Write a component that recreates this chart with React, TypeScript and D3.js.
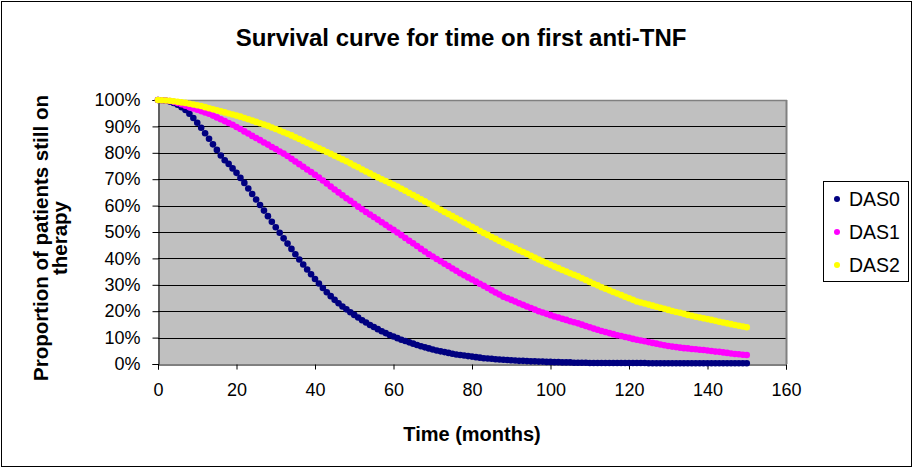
import React, { useEffect, useRef } from "react";
import * as d3 from "d3";

const months: number[] = d3.range(0, 151);

const das0: number[] = [
  1.000, 0.999, 0.997, 0.994, 0.989, 0.982, 0.973, 0.962, 0.948, 0.932,
  0.914, 0.895, 0.874, 0.853, 0.832, 0.811, 0.790, 0.772, 0.758, 0.741,
  0.724, 0.705, 0.686, 0.665, 0.644, 0.623, 0.602, 0.581, 0.560, 0.539,
  0.518, 0.497, 0.476, 0.456, 0.436, 0.416, 0.396, 0.377, 0.358, 0.340,
  0.322, 0.305, 0.288, 0.272, 0.257, 0.243, 0.230, 0.218, 0.207, 0.196,
  0.186, 0.176, 0.166, 0.157, 0.148, 0.140, 0.132, 0.124, 0.117, 0.110,
  0.104, 0.098, 0.092, 0.087, 0.082, 0.077, 0.072, 0.067, 0.063, 0.059,
  0.055, 0.051, 0.048, 0.045, 0.042, 0.039, 0.036, 0.034, 0.032, 0.030,
  0.028, 0.026, 0.024, 0.022, 0.021, 0.020, 0.018, 0.017, 0.016, 0.015,
  0.014, 0.013, 0.012, 0.012, 0.011, 0.010, 0.010, 0.009, 0.009, 0.008,
  0.008, 0.007, 0.007, 0.006, 0.006, 0.006, 0.005, 0.005, 0.005, 0.005,
  0.004, 0.004, 0.004, 0.004, 0.004, 0.004, 0.004, 0.004, 0.004, 0.004,
  0.004, 0.004, 0.004, 0.004, 0.004, 0.003, 0.003, 0.003, 0.003, 0.003,
  0.003, 0.003, 0.003, 0.003, 0.003, 0.003, 0.003, 0.003, 0.003, 0.003,
  0.003, 0.003, 0.003, 0.003, 0.003, 0.003, 0.003, 0.003, 0.003, 0.003,
  0.003,
];

const das1: number[] = [
  1.000, 0.999, 0.998, 0.996, 0.993, 0.989, 0.984, 0.978, 0.973, 0.968,
  0.963, 0.958, 0.953, 0.948, 0.941, 0.934, 0.927, 0.920, 0.913, 0.906,
  0.898, 0.890, 0.881, 0.873, 0.864, 0.856, 0.848, 0.839, 0.831, 0.822,
  0.814, 0.805, 0.797, 0.788, 0.777, 0.767, 0.757, 0.747, 0.737, 0.727,
  0.717, 0.706, 0.695, 0.684, 0.672, 0.661, 0.650, 0.639, 0.628, 0.618,
  0.607, 0.596, 0.586, 0.576, 0.566, 0.557, 0.547, 0.537, 0.527, 0.517,
  0.508, 0.498, 0.488, 0.477, 0.467, 0.457, 0.447, 0.436, 0.426, 0.416,
  0.407, 0.398, 0.389, 0.380, 0.371, 0.362, 0.353, 0.344, 0.336, 0.328,
  0.320, 0.312, 0.304, 0.296, 0.288, 0.279, 0.271, 0.263, 0.255, 0.249,
  0.243, 0.237, 0.230, 0.224, 0.218, 0.212, 0.206, 0.200, 0.195, 0.190,
  0.185, 0.180, 0.176, 0.171, 0.167, 0.162, 0.158, 0.154, 0.149, 0.144,
  0.139, 0.134, 0.130, 0.125, 0.121, 0.117, 0.113, 0.109, 0.106, 0.102,
  0.099, 0.095, 0.092, 0.089, 0.086, 0.083, 0.080, 0.077, 0.074, 0.071,
  0.068, 0.066, 0.064, 0.062, 0.060, 0.059, 0.057, 0.056, 0.054, 0.053,
  0.051, 0.049, 0.047, 0.046, 0.044, 0.042, 0.040, 0.038, 0.037, 0.035,
  0.034,
];

const das2: number[] = [
  1.000, 0.999, 0.998, 0.997, 0.995, 0.993, 0.991, 0.989, 0.986, 0.983,
  0.980, 0.977, 0.973, 0.969, 0.965, 0.961, 0.957, 0.953, 0.949, 0.945,
  0.941, 0.937, 0.932, 0.927, 0.922, 0.917, 0.912, 0.907, 0.902, 0.896,
  0.890, 0.884, 0.878, 0.872, 0.866, 0.859, 0.852, 0.845, 0.838, 0.831,
  0.824, 0.817, 0.810, 0.803, 0.796, 0.789, 0.782, 0.775, 0.768, 0.760,
  0.752, 0.745, 0.737, 0.729, 0.722, 0.714, 0.707, 0.700, 0.693, 0.686,
  0.679, 0.672, 0.664, 0.656, 0.648, 0.640, 0.632, 0.624, 0.616, 0.608,
  0.600, 0.592, 0.584, 0.576, 0.568, 0.560, 0.552, 0.544, 0.536, 0.528,
  0.520, 0.512, 0.504, 0.496, 0.489, 0.481, 0.474, 0.466, 0.459, 0.452,
  0.445, 0.438, 0.431, 0.424, 0.417, 0.410, 0.403, 0.396, 0.389, 0.382,
  0.376, 0.369, 0.363, 0.356, 0.350, 0.344, 0.338, 0.332, 0.325, 0.318,
  0.311, 0.304, 0.298, 0.291, 0.285, 0.279, 0.273, 0.267, 0.261, 0.255,
  0.249, 0.243, 0.237, 0.233, 0.229, 0.225, 0.221, 0.217, 0.213, 0.209,
  0.205, 0.201, 0.197, 0.194, 0.190, 0.186, 0.183, 0.179, 0.176, 0.173,
  0.170, 0.167, 0.164, 0.160, 0.157, 0.154, 0.151, 0.148, 0.145, 0.142,
  0.139,
];

const seriesNames: string[] = ["DAS0", "DAS1", "DAS2"];
const seriesColors: string[] = ["#000080", "#FF00FF", "#FFFF00"];
const xTicks: number[] = [0, 20, 40, 60, 80, 100, 120, 140, 160];
const yTicks: number[] = [0, 0.1, 0.2, 0.3, 0.4, 0.5, 0.6, 0.7, 0.8, 0.9, 1.0];

const titleText = "Survival curve for time on first anti-TNF";
const xTitle = "Time (months)";
const yTitleLines: string[] = ["Proportion of patients still on", "therapy"];

const W = 914;
const H = 469;
const FONT = "Arial, 'Liberation Sans', sans-serif";

export default function App() {
  const ref = useRef<SVGSVGElement>(null);

  useEffect(() => {
    const svg = d3.select(ref.current);
    svg.selectAll("*").remove();

    const left = 158, right = 786, top = 100, bottom = 364;
    const x = d3.scaleLinear().domain([0, 160]).range([left, right]);
    const y = d3.scaleLinear().domain([0, 1]).range([bottom, top]);

    svg.append("rect").attr("x", 0).attr("y", 0).attr("width", W).attr("height", H).attr("fill", "#fff");
    svg.append("rect").attr("x", 1.5).attr("y", 1.5).attr("width", W - 4).attr("height", H - 4)
      .attr("fill", "none").attr("stroke", "#000").attr("stroke-width", 1);

    svg.append("text").attr("x", 461).attr("y", 46).attr("text-anchor", "middle")
      .attr("font-family", FONT).attr("font-weight", "bold").attr("font-size", 24).text(titleText);

    // plot area
    svg.append("rect").attr("x", left).attr("y", top).attr("width", right - left).attr("height", bottom - top)
      .attr("fill", "#C0C0C0");

    // gridlines
    svg.append("g").selectAll("line").data(yTicks.filter(t => t > 0 && t < 1)).join("line")
      .attr("x1", left).attr("x2", right)
      .attr("y1", d => Math.round(y(d)) + 0.5).attr("y2", d => Math.round(y(d)) + 0.5)
      .attr("stroke", "#000").attr("stroke-width", 1);

    // top & right border
    svg.append("line").attr("x1", left).attr("x2", right + 1).attr("y1", top + 0.5).attr("y2", top + 0.5)
      .attr("stroke", "#808080").attr("stroke-width", 1.5);
    svg.append("line").attr("x1", right + 0.5).attr("x2", right + 0.5).attr("y1", top).attr("y2", bottom)
      .attr("stroke", "#808080").attr("stroke-width", 2);

    // axes
    const yAxis = d3.axisLeft(y).tickValues(yTicks).tickFormat(d3.format(".0%")).tickSize(6).tickPadding(12);
    const gy = svg.append("g").attr("transform", `translate(${left + 0.5},0)`).call(yAxis);
    gy.selectAll("text").attr("font-family", FONT).attr("font-size", 18).attr("fill", "#000");
    gy.selectAll("line").attr("stroke", "#000");
    gy.select(".domain").attr("stroke", "#000");

    const xAxis = d3.axisBottom(x).tickValues(xTicks).tickFormat(d3.format("d")).tickSize(5).tickPadding(14);
    const gx = svg.append("g").attr("transform", `translate(0,${bottom + 0.5})`).call(xAxis);
    gx.selectAll("text").attr("font-family", FONT).attr("font-size", 18).attr("fill", "#000");
    gx.selectAll("line").attr("stroke", "#000");
    gx.select(".domain").attr("stroke", "#000");

    // series
    const all = [das0, das1, das2];
    all.forEach((vals, i) => {
      svg.append("g").selectAll("circle").data(vals).join("circle")
        .attr("cx", (_, j) => x(months[j]))
        .attr("cy", d => y(d))
        .attr("r", 3.3)
        .attr("fill", seriesColors[i]);
    });

    // axis titles
    svg.append("text").attr("x", 472).attr("y", 441).attr("text-anchor", "middle")
      .attr("font-family", FONT).attr("font-weight", "bold").attr("font-size", 20).text(xTitle);

    const yt = svg.append("text").attr("transform", `translate(0,238) rotate(-90)`)
      .attr("text-anchor", "middle").attr("font-family", FONT).attr("font-weight", "bold").attr("font-size", 20.5);
    yTitleLines.forEach((line, i) => {
      yt.append("tspan").attr("x", 0).attr("y", 48 + i * 19).text(line);
    });

    // legend
    svg.append("rect").attr("x", 823.5).attr("y", 181.5).attr("width", 85).attr("height", 100)
      .attr("fill", "#fff").attr("stroke", "#000").attr("stroke-width", 1);
    seriesNames.forEach((name, i) => {
      const cy = 199 + i * 33;
      svg.append("circle").attr("cx", 837).attr("cy", cy).attr("r", 3).attr("fill", seriesColors[i]);
      svg.append("text").attr("x", 849).attr("y", cy + 7).attr("font-family", FONT).attr("font-size", 19.5)
        .attr("fill", "#000").text(name);
    });
  }, []);

  return (
    <svg ref={ref} width={W} height={H} style={{ position: "absolute", left: 0, top: 0, display: "block" }} />
  );
}
